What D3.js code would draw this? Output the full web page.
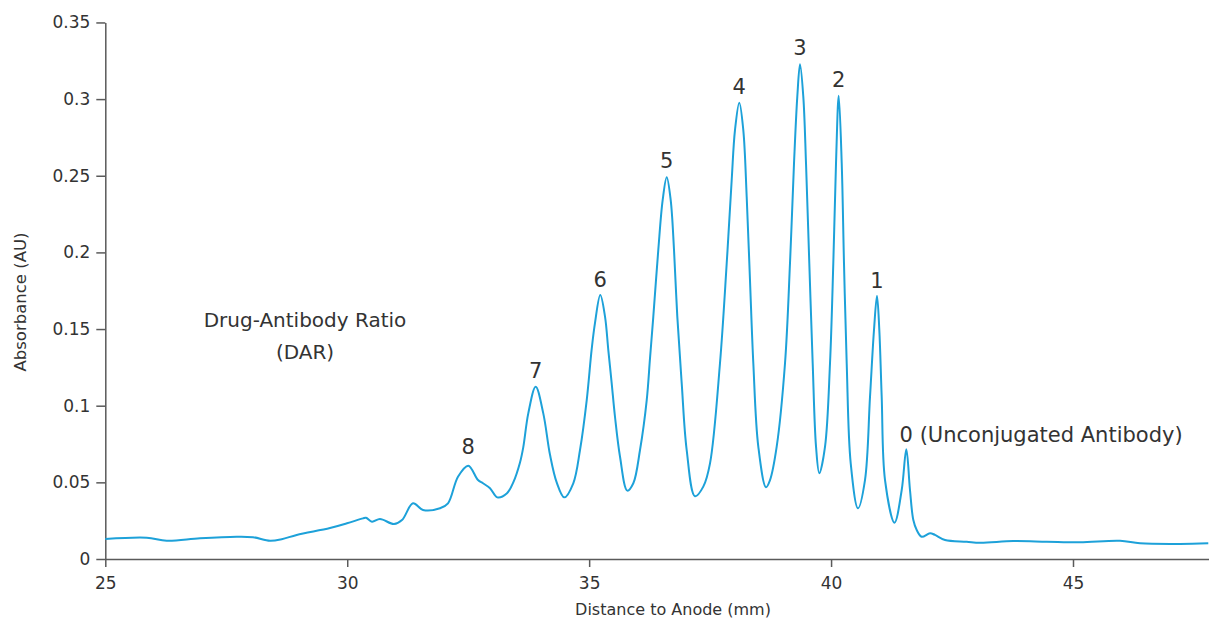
<!DOCTYPE html>
<html><head><meta charset="utf-8">
<script src="https://cdn.jsdelivr.net/npm/d3@7"></script>
<style>
html,body{margin:0;padding:0;background:#fff;}
svg{display:block;font-family:"DejaVu Sans",Verdana,sans-serif;}
</style>
</head><body>
<svg id="chart" width="1209" height="618"></svg>
<script>
// ---- data ----
const distanceMm = [
  25.000,25.856,26.269,26.957,27.716,28.053,28.404,28.646,28.956,29.644,
  29.995,30.326,30.388,30.512,30.677,30.967,31.132,31.359,31.566,31.917,
  32.083,32.289,32.502,32.703,32.806,32.951,33.102,33.302,33.432,33.571,
  33.639,33.742,33.895,34.052,34.191,34.329,34.486,34.672,34.811,34.950,
  35.053,35.121,35.230,35.328,35.396,35.466,35.534,35.638,35.788,35.913,
  36.051,36.190,36.258,36.326,36.429,36.520,36.603,36.685,36.754,36.822,36.913,
  37.016,37.188,37.359,37.498,37.704,37.843,37.946,38.014,38.103,38.186,
  38.256,38.324,38.393,38.496,38.655,38.738,38.876,39.048,39.151,39.234,
  39.302,39.358,39.426,39.482,39.550,39.620,39.689,39.757,39.875,39.978,
  40.046,40.102,40.158,40.220,40.267,40.323,40.406,40.556,40.701,40.805,
  40.887,40.949,40.997,41.046,41.115,41.311,41.460,41.555,41.631,41.700,
  41.770,41.873,42.045,42.148,42.355,42.803,43.078,43.766,44.456,45.145,
  45.972,46.385,47.212,47.796
];
const absorbance = [
  0.0130,0.0139,0.0119,0.0135,0.0145,0.0142,0.0119,0.0129,0.0157,0.0202,
  0.0233,0.0265,0.0269,0.0243,0.0261,0.0228,0.0254,0.0363,0.0320,0.0331,
  0.0363,0.0537,0.0609,0.0515,0.0494,0.0462,0.0402,0.0429,0.0500,0.0630,
  0.0730,0.0950,0.1124,0.0950,0.0680,0.0500,0.0402,0.0494,0.0711,0.1037,
  0.1370,0.1540,0.1722,0.1581,0.1363,0.1146,0.0928,0.0667,0.0446,0.0494,
  0.0711,0.1037,0.1310,0.1581,0.2016,0.2342,0.2490,0.2342,0.2016,0.1581,0.1146,
  0.0711,0.0409,0.0472,0.0624,0.1277,0.1929,0.2472,0.2798,0.2977,0.2798,
  0.2363,0.1820,0.1277,0.0733,0.0468,0.0515,0.0733,0.1277,0.1929,0.2581,
  0.3016,0.3227,0.3016,0.2581,0.1929,0.1277,0.0733,0.0559,0.0733,0.1277,
  0.1929,0.2581,0.3022,0.2581,0.1929,0.1277,0.0624,0.0331,0.0515,0.1059,
  0.1494,0.1718,0.1494,0.1059,0.0515,0.0237,0.0450,0.0716,0.0450,0.0254,
  0.0189,0.0145,0.0168,0.0157,0.0124,0.0113,0.0106,0.0117,0.0113,0.0109,
  0.0119,0.0102,0.0098,0.0102
];
const xTickValues = [25, 30, 35, 40, 45];
const xTickLabels = ["25", "30", "35", "40", "45"];
const yTickValues = [0, 0.05, 0.1, 0.15, 0.2, 0.25, 0.3, 0.35];
const yTickLabels = ["0", "0.05", "0.1", "0.15", "0.2", "0.25", "0.3", "0.35"];
const peakLabels = ["8", "7", "6", "5", "4", "3", "2", "1", "0 (Unconjugated Antibody)"];
const peakMm     = [32.502, 33.895, 35.230, 36.603, 38.103, 39.358, 40.158, 40.949, 41.555];
const peakAbs    = [0.0609, 0.1124, 0.1722, 0.2490, 0.2977, 0.3227, 0.3022, 0.1718, 0.0716];
const noteLines  = ["Drug-Antibody Ratio", "(DAR)"];
const xTitle = "Distance to Anode (mm)";
const yTitle = "Absorbance (AU)";

// ---- layout ----
const svg = d3.select("#chart");
const x = d3.scaleLinear().domain([25, 48]).range([105.3, 105.3 + 23 * 48.385]);
const y = d3.scaleLinear().domain([0, 0.35]).range([559, 22.45]);

const axisColor = "#5a5a5a", textColor = "#333";

const gx = svg.append("g").attr("transform", `translate(0,${y(0)})`)
  .call(d3.axisBottom(x).tickValues(xTickValues)
    .tickFormat((d, i) => xTickLabels[i]).tickSize(8).tickSizeOuter(0).tickPadding(10));
const gy = svg.append("g").attr("transform", `translate(${x(25)},0)`)
  .call(d3.axisLeft(y).tickValues(yTickValues)
    .tickFormat((d, i) => yTickLabels[i]).tickSize(9).tickSizeOuter(0).tickPadding(6));
[gx, gy].forEach(g => {
  g.selectAll("path,line").attr("stroke", axisColor).attr("stroke-width", 1.5);
  g.selectAll("text").attr("fill", textColor).style("font-size", "17px")
    .style("font-family", '"DejaVu Sans",Verdana,sans-serif');
});

// curve
const pts = distanceMm.map((d, i) => [d, absorbance[i]]);
const line = d3.line().x(d => x(d[0])).y(d => y(d[1])).curve(d3.curveCatmullRom.alpha(0.5));
svg.append("path").datum(pts).attr("d", line)
  .attr("fill", "none").attr("stroke", "#1da1d9").attr("stroke-width", 2)
  .attr("stroke-linejoin", "round");

// peak labels
const labelGap = [11.5, 8.5, 8.5, 9, 9, 9, 9, 7.5, 7];
peakLabels.forEach((t, i) => {
  const isZero = i === peakLabels.length - 1;
  svg.append("text")
    .attr("x", x(peakMm[i]) - (isZero ? 6.7 : 0))
    .attr("y", y(peakAbs[i]) - labelGap[i])
    .attr("text-anchor", isZero ? "start" : "middle")
    .attr("fill", textColor).style("font-size", "21px").text(t);
});

// DAR note
noteLines.forEach((t, i) => {
  svg.append("text").attr("x", 305).attr("y", 326.7 + i * 32.6)
    .attr("text-anchor", "middle").attr("fill", textColor)
    .style("font-size", "20px").text(t);
});

// axis titles
svg.append("text").attr("x", 673).attr("y", 615).attr("text-anchor", "middle")
  .attr("fill", textColor).style("font-size", "16px").text(xTitle);
svg.append("text").attr("transform", "translate(26,302) rotate(-90)")
  .attr("text-anchor", "middle").attr("fill", textColor)
  .style("font-size", "16.5px").text(yTitle);
</script>
</body></html>
